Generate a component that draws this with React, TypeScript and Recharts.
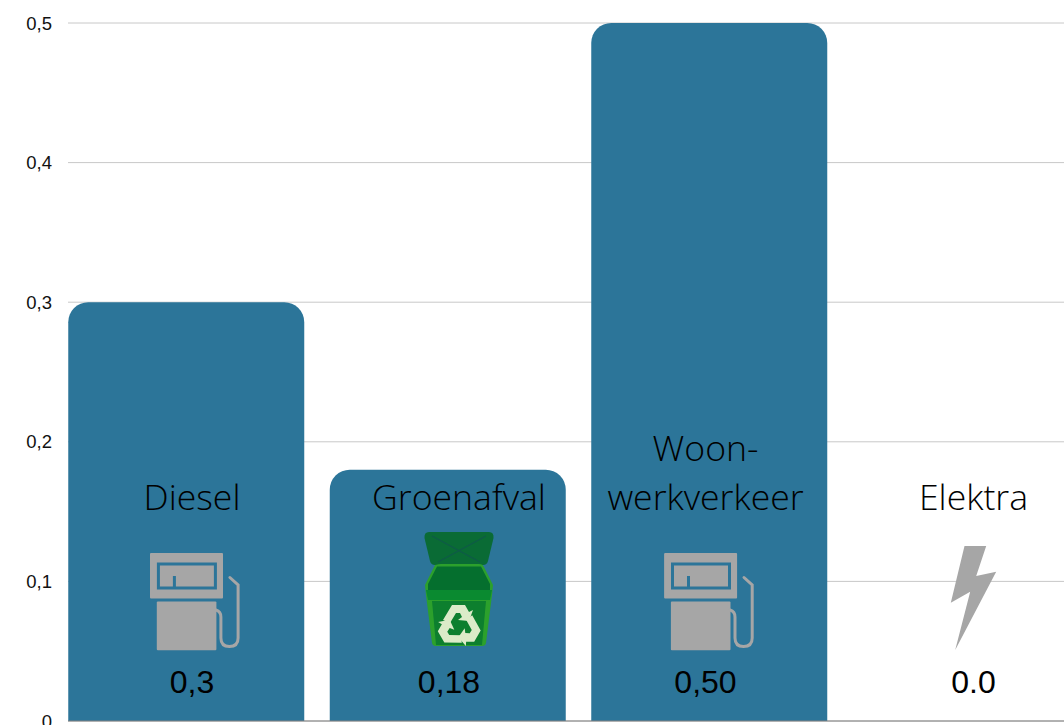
import React from "react";
import { BarChart, Bar, XAxis, YAxis, CartesianGrid } from "recharts";

const categories = ["Diesel", "Groenafval", "Woon-werkverkeer", "Elektra"];
const nameLines = [["Diesel"], ["Groenafval"], ["Woon-", "werkverkeer"], ["Elektra"]];
const values = [0.3, 0.18, 0.5, 0];
const valueLabels = ["0,3", "0,18", "0,50", "0.0"];
const icons = ["pump", "bin", "pump", "bolt"];
const yTicks = [0, 0.1, 0.2, 0.3, 0.4, 0.5];

const data = categories.map((name, i) => ({ name, value: values[i] }));

// Horizontal offsets of the annotations from each bar's centre
const textShift = [6, 11.5, -3.5, 3];
const valueShift = [6, 1.5, -3.5, 3];
const iconShift = [0.4, 11.5, -8.5, 3];

const GRAY = "#a6a6a6";
const BLUE = "#2c7599";

function Pump({ cx, base }: { cx: number; base: number }) {
  return (
    <g transform={`translate(${cx},${base})`}>
      <rect x={-36.4} y={-168} width={73} height={45.5} rx={1} fill={GRAY} />
      <rect x={-28} y={-157} width={57} height={24} fill="none" stroke={BLUE} strokeWidth={3} />
      <path d="M-12 -145 V-134" stroke={BLUE} strokeWidth={3} fill="none" />
      <rect x={-29.6} y={-119.4} width={59.6} height={48.6} rx={1} fill={GRAY} />
      <path
        d="M29.6 -111 C33 -110 34.5 -107 34.5 -104 V-83 C34.5 -77 38 -74.5 43 -74.5 C48 -74.5 51.7 -77 51.7 -83 V-136 L43.5 -143.5"
        fill="none"
        stroke={GRAY}
        strokeWidth={3}
        strokeLinecap="round"
      />
    </g>
  );
}

const ARROW = "M-16 -6 L-7 -21 H6 L10 -14 L14 -16 L10 -5 L-1 -6 L3 -9 L1 -13 H-3 L-9 -3 Z";

function Bin({ cx, base }: { cx: number; base: number }) {
  return (
    <g transform={`translate(${cx},${base})`}>
      <path d="M-30 -189 H30 Q35 -189 34.5 -183 L29 -160 Q28 -156 24 -156 H-24 Q-28 -156 -29 -160 L-34.5 -183 Q-35 -189 -30 -189 Z" fill="#0a6b35" />
      <path d="M-27 -185 L21 -159 M27 -185 L-21 -159" stroke="#0f5a48" strokeWidth={1.2} fill="none" />
      <path d="M-24 -156 Q-20 -157 -18 -157 H20 Q24 -157 25 -154 L34 -136 L33 -126 L27 -78 Q26.5 -75 23 -75 H-23 Q-26.5 -75 -27 -78 L-33 -126 L-34 -136 Z" fill="#2ca02c" />
      <path d="M-22 -154.5 H22 L31 -137 V-130 H-31 V-137 Z" fill="#056f2e" />
      <path d="M-33 -131 H33 L31 -121 H-31 Z" fill="#0a8a30" />
      <path d="M-27 -120 H27 L23 -76 H-23 Z" fill="#0d7f2e" />
      <g fill="#dcebc8" transform="translate(0,-95)">
        <path d={ARROW} />
        <path d={ARROW} transform="rotate(120)" />
        <path d={ARROW} transform="rotate(240)" />
      </g>
    </g>
  );
}

function Bolt({ cx, base }: { cx: number; base: number }) {
  return (
    <polygon
      transform={`translate(${cx},${base})`}
      points="-9,-175 12.7,-175 2.7,-145 22.7,-149.3 -18.3,-71 -3.3,-129.3 -22.7,-118.3"
      fill={GRAY}
    />
  );
}

function Annotation(props: any) {
  const { x, y, index } = props;
  const centre = Number(x);
  const base = Number(y);
  const lines = nameLines[index];
  const textX = centre + textShift[index];
  const iconX = centre + iconShift[index];
  const kind = icons[index];
  return (
    <g>
      {lines.map((line, i) => (
        <text
          key={line}
          x={textX}
          y={base - 211 - (lines.length - 1 - i) * 49}
          textAnchor="middle"
          fontFamily="'Open Sans', sans-serif"
          fontWeight={300}
          fontSize={35.6}
          fill="#000"
        >
          {line}
        </text>
      ))}
      {kind === "pump" && <Pump cx={iconX} base={base} />}
      {kind === "bin" && <Bin cx={iconX} base={base} />}
      {kind === "bolt" && <Bolt cx={iconX} base={base} />}
      <text
        x={centre + valueShift[index]}
        y={base - 28}
        textAnchor="middle"
        fontFamily="'Liberation Sans', Arial, sans-serif"
        fontSize={32}
        fill="#000"
      >
        {valueLabels[index]}
      </text>
    </g>
  );
}

export default function App() {
  return (
    <div style={{ position: "absolute", left: 0, top: 0, width: 1064, height: 725, overflow: "hidden", background: "#fff" }}>
      <BarChart
        width={1102}
        height={725}
        data={data}
        margin={{ top: 23, right: 0.75, bottom: 3, left: 0 }}
        barCategoryGap={0}
      >
        <CartesianGrid horizontal vertical={false} stroke="#c8c8c8" strokeWidth={1} />
        <YAxis
          width={68}
          type="number"
          domain={[0, 0.5]}
          ticks={yTicks}
          interval={0}
          tickLine={false}
          axisLine={false}
          tickSize={0}
          tickMargin={16}
          tickFormatter={(v: number) => String(v).replace(".", ",")}
          tick={{ fontSize: 18.5, fontFamily: "'Liberation Sans', Arial, sans-serif", fill: "#111" }}
        />
        <Bar dataKey="value" fill={BLUE} barSize={236} radius={[20, 20, 0, 0]} isAnimationActive={false} />
        <XAxis
          dataKey="name"
          type="category"
          height={1}
          interval={0}
          tick={Annotation}
          tickSize={0}
          tickMargin={0}
          tickLine={false}
          axisLine={{ stroke: "#808080", strokeWidth: 1 }}
          padding={{ left: -12.75, right: 0 }}
        />
      </BarChart>
    </div>
  );
}
